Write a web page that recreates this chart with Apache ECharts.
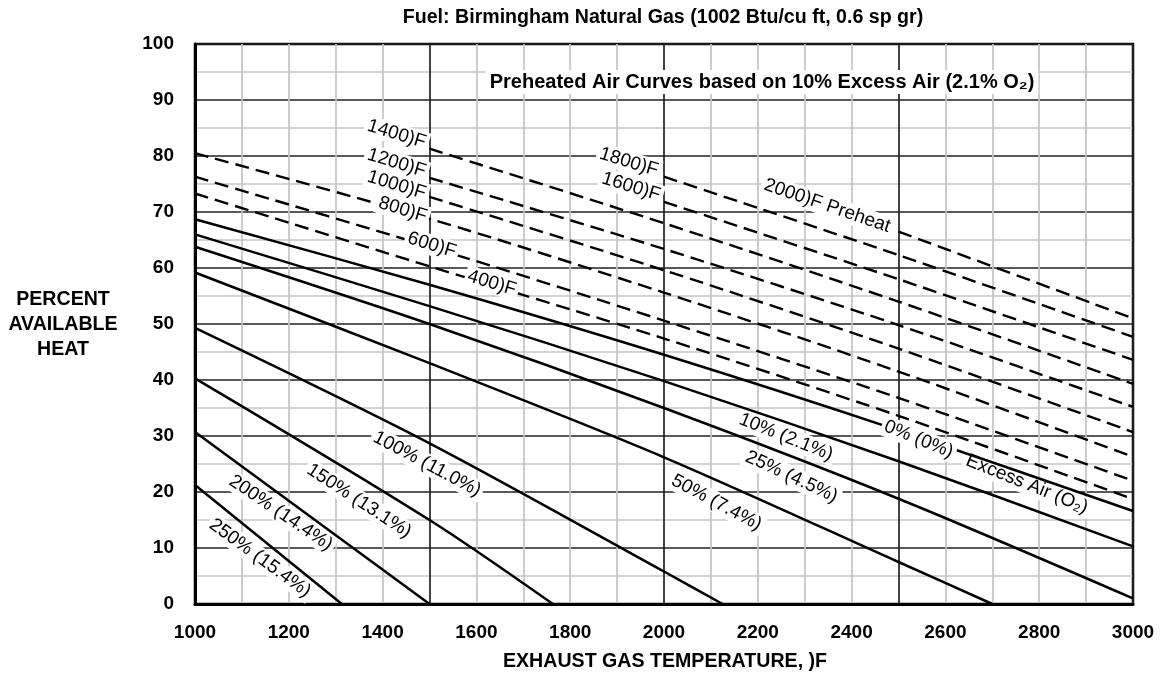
<!DOCTYPE html>
<html>
<head>
<meta charset="utf-8">
<script src="https://cdn.jsdelivr.net/npm/echarts@6/dist/echarts.min.js"></script>
<style>
  html, body { margin: 0; padding: 0; background: #fff; }
  #chart { width: 1161px; height: 687px; }
</style>
</head>
<body>
<div id="chart"></div>
<script>
// exhaust gas temperature (F) / percent available heat

// solid curves: excess air
var excess0   = [[1000, 68.7], [1500, 57.0], [2000, 44.5], [2500, 31.0], [3000, 16.6]];
var excess10  = [[1000, 66.0], [1500, 53.2], [2000, 39.8], [2500, 25.5], [3000, 10.3]];
var excess25  = [[1000, 63.8], [1500, 50.0], [2000, 35.0], [2500, 18.8], [3000, 1.0]];
var excess50  = [[1000, 59.2], [1500, 43.0], [2000, 26.2], [2500, 7.5], [2700, 0]];
var excess100 = [[1000, 49.3], [1500, 28.7], [2000, 5.8], [2125, 0]];
var excess150 = [[1000, 40.3], [1500, 15.0], [1763, 0]];
var excess200 = [[1000, 30.7], [1500, 0]];
var excess250 = [[1000, 21.25], [1313, 0]];

// dashed curves: preheated air (10% excess air)
var preheat400  = [[1000, 73.3], [1500, 60.3], [2000, 47.4], [2500, 33.6], [3000, 18.75]];
var preheat600  = [[1000, 76.3], [1500, 63.8], [2000, 50.6], [2500, 36.8], [3000, 22.0]];
var preheat800  = [[1000, 80.5], [1500, 68.8], [2000, 55.6], [2500, 41.5], [3000, 26.3]];
var preheat1000 = [[1500, 72.7], [2000, 59.6], [2500, 45.6], [3000, 30.7]];
var preheat1200 = [[1500, 76.1], [2000, 63.4], [2500, 49.8], [3000, 35.2]];
var preheat1400 = [[1500, 81.3], [2000, 68.0], [2500, 54.0], [3000, 39.3]];
var preheat1600 = [[2000, 71.8], [2500, 58.0], [3000, 43.6]];
var preheat1800 = [[2000, 76.3], [2500, 62.3], [3000, 47.7]];
var preheat2000 = [[2500, 66.5], [3000, 51.0]];

var solidCurves = [excess0, excess10, excess25, excess50, excess100, excess150, excess200, excess250];
var dashedCurves = [preheat400, preheat600, preheat800, preheat1000, preheat1200,
                    preheat1400, preheat1600, preheat1800, preheat2000];

// curve labels, anchored in chart values
var curveLabels = [
  { text: '1400)F', at: [1430, 83.9], angle: 17 },
  { text: '1200)F', at: [1430, 78.75], angle: 17 },
  { text: '1000)F', at: [1430, 74.8], angle: 17 },
  { text: '800)F', at: [1443, 70.4], angle: 17, top: true },
  { text: '600)F', at: [1505, 64.1], angle: 17, top: true },
  { text: '400)F', at: [1633, 57.3], angle: 17, top: true },
  { text: '1800)F', at: [1925, 78.9], angle: 17 },
  { text: '1600)F', at: [1930, 74.5], angle: 17 },
  { text: '2000)F Preheat', at: [2348, 71.1], angle: 19 },
  { text: '10% (2.1%)', at: [2260, 29.8], angle: 22 },
  { text: '25% (4.5%)', at: [2272, 22.7], angle: 25 },
  { text: '50% (7.4%)', at: [2112, 18.1], angle: 28 },
  { text: '0% (0%)', at: [2543, 29.4], angle: 22, top: true },
  { text: 'Excess Air (O\u2082)', at: [2774, 21.4], angle: 22 },
  { text: '100% (11.0%)', at: [1494.7, 25.0], angle: 28 },
  { text: '150% (13.1%)', at: [1349.7, 18.4], angle: 33 },
  { text: '200% (14.4%)', at: [1183, 16.25], angle: 34 },
  { text: '250% (15.4%)', at: [1138.6, 8.2], angle: 36 }
];
var noteText = 'Preheated Air Curves based on 10% Excess Air (2.1% O\u2082)';
var noteAt = [2209, 93.2];

var FONT = '"Liberation Sans", Arial, "DejaVu Sans", sans-serif';

var series = [];
solidCurves.forEach(function (d) {
  series.push({
    type: 'line', data: d, showSymbol: false, smooth: 0.3, z: 2,
    lineStyle: { color: '#000', width: 2.5 }
  });
});
dashedCurves.forEach(function (d) {
  series.push({
    type: 'line', data: d, showSymbol: false, smooth: 0.3, z: 2,
    lineStyle: { color: '#000', width: 2.4, type: [14, 7] }
  });
});

var chart = echarts.init(document.getElementById('chart'));
chart.setOption({
  animation: false,
  backgroundColor: '#fff',
  grid: { left: 195, right: 28, top: 44, bottom: 83, show: true, borderColor: '#000', borderWidth: 2.5 },
  xAxis: {
    type: 'value', min: 1000, max: 3000, interval: 100,
    axisLine: { show: true, lineStyle: { color: '#000', width: 3 } },
    axisTick: { show: false },
    axisLabel: {
      margin: 19, color: '#000', fontSize: 19, fontWeight: 'bold', fontFamily: FONT,
      formatter: function (v) { return v % 200 === 0 ? String(v) : ''; }
    },
    splitLine: { show: true, showMinLine: true, showMaxLine: true,
      lineStyle: { color: ['#222', '#c4c4c4', '#c4c4c4', '#c4c4c4', '#c4c4c4'], width: 1.7 } }
  },
  yAxis: {
    type: 'value', min: 0, max: 100, interval: 5,
    axisLine: { show: true, lineStyle: { color: '#000', width: 3 } },
    axisTick: { show: false },
    axisLabel: {
      margin: 21, color: '#000', fontSize: 19, fontWeight: 'bold', fontFamily: FONT,
      formatter: function (v) { return v % 10 === 0 ? String(v) : ''; }
    },
    splitLine: { show: true, showMinLine: true, showMaxLine: true,
      lineStyle: { color: ['#222', '#c4c4c4'], width: 1.7 } }
  },
  series: series
});

function toPx(p) { return chart.convertToPixel({ gridIndex: 0 }, p); }

var graphics = [];
curveLabels.forEach(function (l) {
  var p = toPx(l.at);
  graphics.push({
    type: 'text', x: p[0], y: p[1], rotation: -l.angle * Math.PI / 180, z: l.top ? 10 : 1,
    style: {
      text: l.text, fill: '#000', fontSize: 19, fontFamily: FONT,
      align: 'center', verticalAlign: 'middle', backgroundColor: '#fff', padding: [1, 3]
    }
  });
});
var np = toPx(noteAt);
graphics.push({
  type: 'text', x: np[0], y: np[1], z: 1,
  style: { text: noteText, fill: '#000', fontSize: 20, fontWeight: 'bold', fontFamily: FONT,
    align: 'center', verticalAlign: 'middle', backgroundColor: '#fff', padding: [2, 4] }
});
graphics.push({
  type: 'text', x: 663, y: 18,
  style: { text: 'Fuel: Birmingham Natural Gas (1002 Btu/cu ft, 0.6 sp gr)', fill: '#000',
    fontSize: 19.6, fontWeight: 'bold', fontFamily: FONT, align: 'center', verticalAlign: 'middle' }
});
graphics.push({
  type: 'text', x: 63, y: 325,
  style: { text: 'PERCENT\nAVAILABLE\nHEAT', fill: '#000', lineHeight: 25,
    fontSize: 19.6, fontWeight: 'bold', fontFamily: FONT, align: 'center', verticalAlign: 'middle' }
});
graphics.push({
  type: 'text', x: 665, y: 662,
  style: { text: 'EXHAUST GAS TEMPERATURE, )F', fill: '#000',
    fontSize: 19.6, fontWeight: 'bold', fontFamily: FONT, align: 'center', verticalAlign: 'middle' }
});
chart.setOption({ graphic: graphics });
</script>
</body>
</html>
